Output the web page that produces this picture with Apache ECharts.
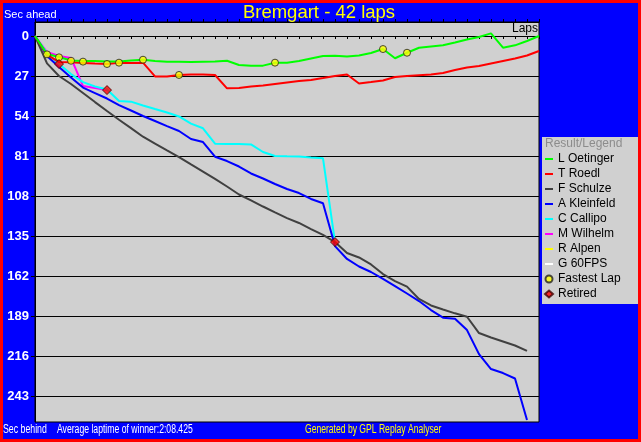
<!DOCTYPE html>
<html><head><meta charset="utf-8">
<script src="https://cdn.jsdelivr.net/npm/echarts@6/dist/echarts.min.js"></script>
<style>html,body{margin:0;padding:0;background:#0000ff;}#c{width:641px;height:442px;}</style>
</head><body><div id="c"></div><script>
// ---- data (seconds behind winner's average pace, per lap) ----
const yTicks = [0, 27, 54, 81, 108, 135, 162, 189, 216, 243];
const oetinger = [0,12.2,14.2,16.5,16.9,16.9,17.2,17.2,16.5,16.0,16.9,17.3,17.3,17.6,17.3,17.2,16.7,19.6,20.0,20.0,18.0,18.0,16.9,15.2,13.5,13.3,13.8,13.2,11.5,8.8,15.0,11.3,7.9,7.1,6.3,4.4,2.4,0.7,-1.8,7.9,6.3,3.4,0];
const roedl = [0,12.6,17.6,17.8,18.2,18.6,18.9,18.0,18.2,18.0,27.3,27.3,26.3,26.0,26.0,26.3,35.3,35.1,34.1,33.4,32.4,31.4,30.4,29.7,28.4,27.0,26.0,32.1,31.1,30.0,27.7,27.0,26.5,26.0,25.0,23.0,21.3,20.3,18.6,16.9,15.2,13.2,10.1];
const schulze = [0,18.5,27.0,32.4,38.5,44.6,50.6,56.5,62.2,68.0,72.6,77.2,81.7,86.7,91.6,96.5,101.6,107.0,111.0,115.1,119.1,122.9,126.2,130.3,134.3,139.1,146.5,149.5,154.2,160.7,165.4,169.2,177.5,181.9,184.6,187.2,189.5,200.5,203.5,206.2,208.9,212.6];
const kleinfeld = [0,13.5,20.9,28.0,34.8,38.5,42.2,46.6,50.3,54.0,57.4,60.8,64.1,69.5,71.6,81.5,84.4,88.1,92.8,96.2,99.9,103.3,106.0,110.0,112.9,141.8,150.5,155.6,159.3,164.0,168.8,173.8,178.9,185.0,190.1,190.8,198.5,214.7,224.8,227.5,231.2,259.2];
const callipo = [0,11.5,18.9,25.7,31.1,34.1,36.1,43.9,44.3,46.9,49.3,51.6,54.3,59.1,62.3,72.7,72.9,72.9,73.2,78.3,81.0,81.2,81.3,82.0,82.6,139.1];
const wilhelm = [0,10.8,13.5,14.8,33.8,35.1,36.5];
const alpen = [];
const fps60 = [];
const fastestLaps = [1,2,3,4,6,7,9,12,20,29,31];
const fastestVals = [12.4,14.4,16.7,17.3,18.9,18.0,16.0,26.3,18.0,8.8,11.3];
const retiredLaps = [2,6,25];
const retiredVals = [18.9,36.5,139.1];

const drivers = [
  {name:'L Oetinger', color:'#00ff00', vals:oetinger},
  {name:'T Roedl', color:'#ff0000', vals:roedl},
  {name:'F Schulze', color:'#404040', vals:schulze},
  {name:'A Kleinfeld', color:'#0000ff', vals:kleinfeld},
  {name:'C Callipo', color:'#00ffff', vals:callipo},
  {name:'M Wilhelm', color:'#ff00ff', vals:wilhelm},
  {name:'R Alpen', color:'#ffff00', vals:alpen},
  {name:'G 60FPS', color:'#ffffff', vals:fps60}
];

const linePath = 'path://M0,0h0.01v7h-0.01zM0,2.5h8v2h-8z';
const toPairs = a => a.map((v, i) => [i, v]);

const series = [{
  type:'line', data:[], silent:true, z:1,
  markLine:{silent:true, symbol:['none','none'], animation:false, label:{show:false},
    lineStyle:{color:'#000', width:1, type:'solid'},
    data: yTicks.slice(1).map(v => ({yAxis:v}))}
}];
drivers.forEach((d, i) => series.push({
  name:d.name, type:'line', data:toPairs(d.vals), symbol:'none', showSymbol:false,
  lineStyle:{color:d.color, width:2}, itemStyle:{color:d.color}, z:2 + (drivers.length - i)
}));
series.push({name:'Fastest Lap', type:'scatter', symbol:'circle', symbolSize:7,
  data:fastestLaps.map((l, i) => [l, fastestVals[i]]),
  itemStyle:{color:'#ffff00', borderColor:'#202020', borderWidth:1}, z:20});
series.push({name:'Retired', type:'scatter', symbol:'diamond', symbolSize:9,
  data:retiredLaps.map((l, i) => [l, retiredVals[i]]),
  itemStyle:{color:'#ff0000', borderColor:'#400000', borderWidth:1}, z:21});

const axisX = pos => ({
  type:'value', min:0, max:42, interval:1, position:pos,
  axisLine:{show:true, onZero:true, lineStyle:{color:'#000', width:1}},
  axisTick:{show:true, length:3, lineStyle:{color:'#000'}},
  axisLabel:{show:false}, splitLine:{show:false}
});

const narrow = '12px "Liberation Sans", Arial';

const chart = echarts.init(document.getElementById('c'));
chart.setOption({
  animation:false,
  backgroundColor:'#0000ff',
  grid:{left:35, top:22, width:504, height:400, show:true, backgroundColor:'#d0d0d0', borderColor:'#000', borderWidth:1},
  xAxis:[axisX('bottom'), axisX('top')],
  yAxis:{type:'value', inverse:true, min:-9.45, max:260.55,
    axisLine:{show:true, onZero:false, lineStyle:{color:'#000'}},
    axisTick:{show:true, length:4, customValues:yTicks, lineStyle:{color:'#000'}},
    axisLabel:{customValues:yTicks, color:'#fff', fontWeight:'bold', fontSize:13, fontFamily:'Liberation Sans, Arial', margin:6},
    splitLine:{show:false}},
  legend:{orient:'vertical', left:544, top:151.5, padding:0, itemWidth:8, itemHeight:7, itemGap:0, selectedMode:false,
    textStyle:{fontSize:12, color:'#000', fontFamily:'Liberation Sans, Arial', lineHeight:15},
    data: drivers.map(d => ({name:d.name, icon:linePath})).concat([{name:'Fastest Lap', icon:'circle'}, {name:'Retired', icon:'diamond'}])},
  graphic:[
    {type:'rect', z:-1, shape:{x:542, y:137, width:96, height:167}, style:{fill:'#d0d0d0'}},
    {type:'text', x:545, y:144, style:{text:'Result/Legend', fill:'#8c8c8c', font:'12px "Liberation Sans", Arial', verticalAlign:'middle'}},
    {type:'text', x:319, y:13, style:{text:'Bremgart - 42 laps', fill:'#ffff00', font:'18.5px "Liberation Sans", Arial', align:'center', verticalAlign:'middle'}},
    {type:'text', x:4, y:15, style:{text:'Sec ahead', fill:'#fff', font:'11px "Liberation Sans", Arial', verticalAlign:'middle'}},
    {type:'text', x:538, y:29, z:50, style:{text:'Laps', fill:'#000', font:'12px "Liberation Sans", Arial', align:'right', verticalAlign:'middle'}},
    {type:'text', x:3, y:430, scaleX:0.73, style:{text:'Sec behind', fill:'#fff', font:narrow, verticalAlign:'middle'}},
    {type:'text', x:57, y:430, scaleX:0.72, style:{text:'Average laptime of winner:2:08.425', fill:'#fff', font:narrow, verticalAlign:'middle'}},
    {type:'text', x:305, y:430, scaleX:0.715, style:{text:'Generated by GPL Replay Analyser', fill:'#ffff00', font:narrow, verticalAlign:'middle'}},
    {type:'rect', z:100, shape:{x:1.5, y:1.5, width:638, height:439}, style:{fill:null, stroke:'#ff0000', lineWidth:3}}
  ],
  series: series
});
</script></body></html>
